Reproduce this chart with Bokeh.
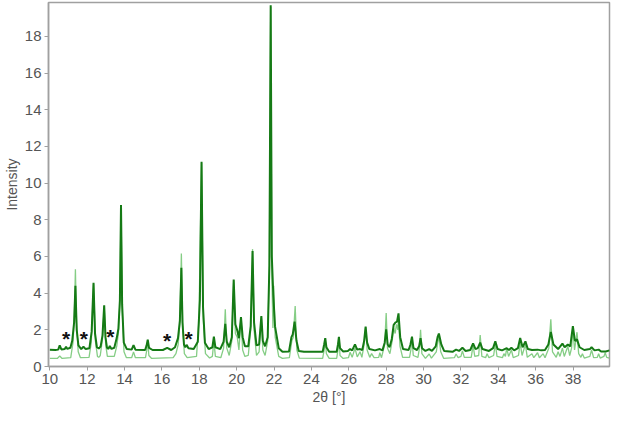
from bokeh.plotting import figure
from bokeh.models import ColumnDataSource, SingleIntervalTicker, Range1d
from bokeh.core.properties import value
from bokeh.embed import file_html
from bokeh.resources import INLINE

obs_2theta = [10.00, 10.30, 10.45, 10.53, 10.62, 10.80, 10.87, 10.94, 11.10, 11.20, 11.30, 11.37, 11.44, 11.53, 11.68,
              11.80, 11.92, 12.12, 12.24, 12.34, 12.42, 12.52, 12.62, 12.72, 12.82, 12.91, 12.98, 13.06, 13.14, 13.21,
              13.30, 13.45, 13.58, 13.67, 13.75, 13.81, 13.87, 13.96, 14.12, 14.38, 14.48, 14.58, 15.10, 15.18, 15.24,
              15.31, 15.50, 16.05, 16.28, 16.50, 16.70, 16.86, 16.96, 17.04, 17.10, 17.18, 17.25, 17.32, 17.42, 17.70,
              17.92, 18.03, 18.12, 18.20, 18.30, 18.50, 18.70, 18.78, 18.86, 19.12, 19.30, 19.39, 19.47, 19.60, 19.74,
              19.84, 19.93, 20.03, 20.12, 20.23, 20.32, 20.44, 20.62, 20.75, 20.85, 20.93, 21.06, 21.20, 21.32, 21.40,
              21.52, 21.66, 21.75, 21.82, 21.88, 21.96, 22.05, 22.25, 22.45, 22.80, 22.93, 23.00, 23.10, 23.20, 23.32,
              23.60, 24.60, 24.68, 24.74, 24.80, 24.95, 25.35, 25.42, 25.47, 25.53, 25.70, 25.95, 26.07, 26.18, 26.33,
              26.45, 26.60, 26.72, 26.82, 26.90, 26.98, 27.10, 27.40, 27.66, 27.80, 27.92, 28.00, 28.08, 28.18, 28.30,
              28.40, 28.50, 28.58, 28.66, 28.75, 28.90, 29.20, 29.30, 29.38, 29.46, 29.65, 29.76, 29.84, 29.92, 30.10,
              30.30, 30.45, 30.65, 30.75, 30.82, 30.95, 31.10, 31.55, 31.74, 31.90, 32.08, 32.25, 32.50, 32.65, 32.78,
              32.90, 33.03, 33.15, 33.50, 33.72, 33.84, 33.96, 34.20, 34.45, 34.57, 34.70, 34.85, 35.05, 35.17, 35.30,
              35.45, 35.58, 35.80, 36.10, 36.30, 36.50, 36.68, 36.81, 36.95, 37.20, 37.43, 37.55, 37.72, 37.85, 37.99,
              38.10, 38.21, 38.35, 38.60, 38.90, 38.99, 39.15, 39.37, 39.50, 39.75, 39.95]
obs_intensity = [0.92, 0.90, 0.92, 1.15, 0.93, 0.95, 1.08, 0.96, 1.02, 1.40, 2.40, 4.40, 2.00, 1.15, 0.95,
                 1.08, 0.95, 1.00, 1.90, 4.57, 1.80, 1.05, 0.98, 1.10, 1.70, 3.34, 1.60, 1.02, 0.96, 1.12,
                 0.96, 1.02, 1.55, 2.06, 3.60, 8.81, 3.40, 1.30, 0.95, 0.92, 1.17, 0.92, 0.90, 1.15, 1.46,
                 1.02, 0.90, 0.90, 1.02, 0.90, 1.05, 1.55, 2.50, 5.39, 2.40, 1.20, 1.05, 1.18, 1.00, 0.95,
                 1.35, 3.60, 11.17, 3.20, 1.30, 0.95, 1.05, 1.63, 1.05, 0.95, 1.35, 2.32, 1.35, 1.05, 1.60,
                 4.74, 2.30, 1.97, 1.54, 2.69, 1.60, 1.10, 1.10, 2.20, 6.30, 2.40, 1.15, 1.20, 2.75, 1.40,
                 1.10, 1.60, 5.50, 19.70, 6.00, 3.90, 2.20, 1.00, 0.80, 0.82, 1.60, 1.75, 2.45, 1.40, 0.85,
                 0.80, 0.80, 1.20, 1.55, 1.05, 0.80, 0.80, 1.20, 1.62, 1.00, 0.82, 0.85, 0.95, 0.88, 1.20,
                 0.92, 0.95, 0.90, 1.40, 2.18, 1.30, 0.95, 0.88, 0.95, 0.88, 1.30, 2.03, 1.20, 1.05, 1.50,
                 2.27, 2.40, 2.45, 2.90, 1.60, 0.95, 0.90, 1.20, 1.63, 1.00, 0.90, 1.10, 1.55, 1.00, 0.85,
                 0.95, 0.85, 1.10, 1.60, 1.80, 1.20, 0.85, 0.80, 0.92, 0.85, 1.02, 0.85, 0.90, 1.26, 0.95,
                 1.00, 1.30, 0.95, 0.85, 1.00, 1.37, 0.95, 0.88, 1.00, 0.90, 1.02, 0.88, 1.00, 1.55, 1.05,
                 1.37, 0.95, 0.90, 0.92, 0.88, 0.90, 1.20, 1.89, 1.20, 0.95, 1.25, 1.05, 1.20, 1.10, 2.20,
                 1.40, 1.48, 1.05, 0.90, 0.95, 1.05, 0.88, 0.92, 0.82, 0.82, 0.88]

# Calculated pattern (light green)
calc_2theta = [10.00, 10.40, 10.53, 10.66, 11.12, 11.24, 11.31, 11.37, 11.43, 11.52, 11.64, 12.10, 12.22, 12.34, 12.44,
               12.55, 12.62, 12.70, 12.82, 12.91, 12.99, 13.08, 13.45, 13.58, 13.67, 13.75, 13.81, 13.88, 13.97, 14.10,
               14.38, 14.48, 14.58, 15.12, 15.19, 15.24, 15.30, 15.45, 16.60, 16.75, 16.87, 16.96, 17.04, 17.11, 17.20,
               17.35, 17.85, 17.98, 18.12, 18.21, 18.33, 18.55, 18.70, 18.78, 18.86, 19.15, 19.30, 19.39, 19.47, 19.60,
               19.74, 19.84, 19.93, 20.03, 20.12, 20.23, 20.32, 20.44, 20.62, 20.75, 20.85, 20.93, 21.06, 21.20, 21.32,
               21.40, 21.52, 21.66, 21.75, 21.82, 21.88, 21.94, 21.98, 22.06, 22.25, 22.45, 22.82, 22.95, 23.03, 23.13,
               23.22, 23.35, 24.60, 24.68, 24.74, 24.80, 24.95, 25.35, 25.42, 25.47, 25.53, 25.70, 25.98, 26.07, 26.18,
               26.33, 26.45, 26.60, 26.70, 26.82, 26.90, 26.98, 27.12, 27.22, 27.35, 27.60, 27.66, 27.75, 27.92, 28.00,
               28.07, 28.20, 28.32, 28.40, 28.48, 28.55, 28.62, 28.66, 28.74, 28.88, 29.25, 29.32, 29.38, 29.45, 29.70,
               29.78, 29.84, 29.91, 30.10, 30.30, 30.42, 30.68, 30.76, 30.82, 30.92, 31.08, 31.65, 31.74, 31.85, 32.00,
               32.08, 32.18, 32.55, 32.65, 32.74, 32.95, 33.03, 33.12, 33.32, 33.40, 33.50, 33.75, 33.84, 33.93, 34.22,
               34.30, 34.38, 34.45, 34.55, 34.70, 34.80, 35.08, 35.17, 35.27, 35.45, 35.55, 35.80, 35.90, 36.10, 36.20,
               36.40, 36.50, 36.70, 36.81, 36.90, 37.10, 37.20, 37.30, 37.43, 37.53, 37.72, 37.82, 37.92, 37.99, 38.08,
               38.21, 38.30, 38.42, 38.50, 38.60, 38.90, 38.99, 39.10, 39.30, 39.37, 39.45, 39.65, 39.72, 39.80, 39.95]
calc_intensity = [0.44, 0.44, 0.57, 0.44, 0.48, 1.30, 2.60, 5.30, 2.40, 0.80, 0.48, 0.50, 1.30, 4.50, 1.40,
                  0.55, 0.50, 0.60, 1.50, 3.30, 1.20, 0.55, 0.55, 1.10, 1.80, 3.50, 8.70, 3.00, 0.80, 0.48,
                  0.48, 0.80, 0.48, 0.48, 0.90, 1.45, 0.60, 0.44, 0.48, 0.70, 1.20, 2.40, 6.16, 2.20, 0.70,
                  0.48, 0.55, 2.50, 11.10, 2.60, 0.70, 0.46, 0.55, 1.40, 0.55, 0.48, 1.00, 3.12, 1.00, 0.60,
                  1.40, 4.70, 1.80, 1.60, 0.90, 2.65, 0.90, 0.55, 0.60, 2.00, 6.40, 2.00, 0.60, 0.80, 2.70,
                  0.90, 0.60, 1.40, 5.50, 19.60, 5.00, 2.10, 4.40, 1.60, 0.55, 0.44, 0.48, 1.40, 1.60, 3.30,
                  0.90, 0.46, 0.44, 0.90, 1.52, 0.70, 0.44, 0.44, 0.90, 1.58, 0.60, 0.44, 0.48, 0.78, 0.50,
                  1.00, 0.52, 0.80, 0.50, 1.20, 2.15, 0.90, 0.50, 0.70, 0.48, 0.50, 0.75, 0.48, 1.20, 2.91,
                  1.00, 0.70, 1.40, 2.10, 1.80, 2.30, 2.00, 2.60, 1.10, 0.50, 0.50, 0.90, 1.50, 0.60, 0.50,
                  1.00, 2.00, 0.70, 0.44, 0.68, 0.46, 0.80, 1.30, 1.65, 0.80, 0.44, 0.48, 0.68, 0.48, 0.55,
                  0.85, 0.50, 0.50, 1.15, 0.55, 0.60, 1.72, 0.55, 0.48, 0.70, 0.48, 0.60, 1.25, 0.55, 0.48,
                  0.70, 0.55, 1.00, 0.55, 0.90, 0.48, 0.60, 1.30, 0.60, 1.20, 0.50, 0.70, 0.48, 0.75, 0.48,
                  0.70, 0.48, 1.00, 2.57, 0.80, 0.50, 0.80, 0.55, 1.00, 0.55, 1.10, 0.60, 1.00, 2.10, 0.90,
                  1.87, 0.70, 0.50, 0.70, 0.46, 0.55, 0.90, 0.48, 0.50, 0.70, 0.46, 0.55, 0.75, 0.50, 0.46]

# Impurity marks
star_2theta = [10.87, 11.82, 13.24, 16.28, 17.42]
star_intensity = [1.52, 1.52, 1.65, 1.40, 1.52]
star_text = ["*", "*", "*", "*", "*"]

x_ticks_interval = 2
y_ticks_interval = 2

p = figure(width=611, height=407, output_backend="svg", toolbar_location=None,
           x_range=Range1d(9.93, 39.95), y_range=Range1d(0, 19.85),
           min_border_top=2, min_border_right=2, min_border_left=10, min_border_bottom=0)

p.line(calc_2theta, calc_intensity, line_color="#78c878", line_width=1.3, line_alpha=0.9)
p.line(obs_2theta, obs_intensity, line_color="#157a15", line_width=2.0)

src = ColumnDataSource(dict(x=star_2theta, y=star_intensity, t=star_text))
p.text(x="x", y="y", text="t", source=src, text_align="center", text_baseline="middle",
       text_font=value("Liberation Sans"), text_font_size="21px", text_font_style="bold",
       text_color="#111111", y_offset=0)

p.xgrid.visible = False
p.ygrid.visible = False
p.outline_line_color = "#a0a0a0"
p.outline_line_width = 1.5

for ax in (p.xaxis[0], p.yaxis[0]):
    ax.axis_line_color = "#a0a0a0"
    ax.axis_line_width = 1.5
    ax.major_tick_line_color = "#a0a0a0"
    ax.major_tick_out = 4
    ax.major_tick_in = 0
    ax.minor_tick_line_color = None
    ax.major_label_text_font = "Liberation Sans"
    ax.major_label_text_font_size = "15px"
    ax.major_label_text_color = "#555555"
    ax.axis_label_text_font = "Liberation Sans"
    ax.axis_label_text_font_size = "14px"
    ax.axis_label_text_font_style = "normal"
    ax.axis_label_text_color = "#555555"
    ax.major_label_standoff = 3
    ax.axis_label_standoff = 2

p.xaxis[0].ticker = SingleIntervalTicker(interval=x_ticks_interval)
p.yaxis[0].ticker = SingleIntervalTicker(interval=y_ticks_interval)
p.xaxis[0].axis_label = "2θ [°]"
p.yaxis[0].axis_label = "Intensity"

open("out.html", "w").write(file_html(p, INLINE))
